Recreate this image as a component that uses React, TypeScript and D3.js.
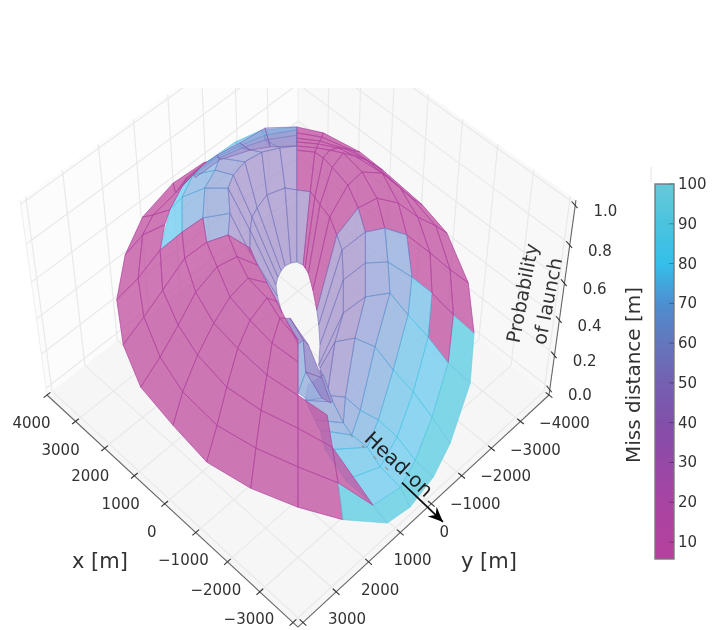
import React from "react";
import * as d3 from "d3";

type V = [number, number, number];

// Surface vertices: [across m, along m, probability]; across/along are metres measured on
// the horizontal diagonals through the centre of the box (x = 925 - across - along, y = -925 - across + along).
const frontSurface: V[][] = [
  [[-1440,-1500,.825],[-1440,-1490,.823],[-1410,-1500,.825]],
  [[-1930,-1270,.775],[-1890,-1170,.751],[-1720,-1330,.787]],
  [[-2400,-910,.694],[-2240,-930,.699],[-1980,-990,.711]],
  [[-2670,-510,.603],[-2400,-720,.651],[-2060,-830,.675]],
  [[-2800,-30,.496],[-2470,-260,.548],[-2130,-560,.615],[-1790,-750,.658],[-1470,-900,.692]],
  [[-2700,450,.389],[-2380,150,.455],[-2090,-130,.52],[-1750,-470,.596],[-1410,-640,.634],[-1080,-720,.651],[-740,-580,.62]],
  [[-2430,900,.288],[-2130,580,.36],[-1850,240,.436],[-1580,-110,.515],[-1250,-380,.575],[-940,-490,.599],[-630,-400,.579]],
  [[-1930,1310,.198],[-1780,950,.277],[-1550,560,.365],[-1300,220,.441],[-1050,-60,.503],[-770,-260,.548],[-480,-210,.537]],
  [[-1410,1700,.11],[-1250,1310,.198],[-1100,900,.288],[-930,490,.381],[-740,190,.448],[-480,-50,.501],[-320,-10,.491]],
  [[-730,1980,.048],[-650,1550,.143],[-570,1150,.234],[-480,770,.317],[-400,430,.393],[-280,170,.453],[-200,170,.453]],
  [[0,2180,.002],[0,1750,.098],[0,1340,.191],[0,990,.269],[0,630,.348],[0,400,.401],[0,400,.401]],
  [[690,2390,0],[620,1920,.06],[530,1540,.145],[450,1200,.222]],
  [[1370,2450,0],[1160,2160,.007],[1160,2160,.007]],
];
const frontMiss: (number | null)[][] = [
  [12,12],
  [12,12],
  [12,12],
  [12,12],
  [12,12,12,12],
  [12,12,12,12,12,12],
  [12,12,12,12,12,12],
  [12,12,12,12,12,12],
  [12,12,12,12,12,12],
  [12,12,12,12,12,12],
  [12,12,12],
  [95,12],
];

const upperSurface: V[][] = [
  [[-1410,-640,.634],[-1410,-640,.634],[-1410,-640,.634],[-1080,-720,.651],[-740,-580,.62],[-250,110,.465]],
  [[-2130,-560,.615],[-1790,-750,.658],[-1470,-900,.692],[-1050,-950,.703],[-740,-530,.608],[-320,-70,.506]],
  [[-1980,-990,.711],[-1790,-1120,.742],[-1440,-1220,.763],[-1080,-1220,.763],[-740,-770,.663],[-340,-190,.532]],
  [[-1720,-1330,.787],[-1620,-1360,.794],[-1280,-1410,.806],[-1000,-1360,.794],[-710,-910,.694],[-310,-270,.551]],
  [[-1410,-1500,.825],[-1250,-1550,.837],[-1210,-1540,.835],[-820,-1500,.825],[-630,-1010,.715],[-260,-340,.565]],
  [[-970,-1710,.873],[-900,-1670,.863],[-870,-1650,.858],[-560,-1600,.849],[-480,-1150,.746],[-200,-390,.577]],
  [[-560,-1840,.901],[-510,-1780,.889],[-510,-1730,.878],[-280,-1650,.858],[-200,-1220,.763],[-110,-420,.584]],
  [[-20,-1870,.909],[-20,-1840,.901],[-20,-1780,.889],[-20,-1670,.863],[-20,-1200,.758],[-20,-430,.587]],
];
const upperMiss: (number | null)[][] = [
  [null,null,55,45,45],
  [75,62,55,45,45],
  [75,62,55,45,45],
  [66,62,52,45,45],
  [68,60,50,45,45],
  [70,58,48,45,45],
  [70,55,48,45,45],
];

const crownSurface: V[][] = [
  [[-1620,-1390,.801],[-1590,-1330,.787]],
  [[-1250,-1570,.842],[-1210,-1520,.83]],
  [[-900,-1700,.87],[-740,-1620,.854]],
  [[-510,-1860,.906],[-430,-1660,.861]],
  [[-20,-1870,.909],[-20,-1670,.863]],
];
const crownMiss: (number | null)[][] = [[30],[30],[30],[30]];

const rightSurface: V[][] = [
  [[-20,-1870,.909],[-20,-1810,.894],[-20,-1750,.882],[-20,-1710,.873],[-20,-1670,.863],[-20,-1620,.854],[-20,-1200,.758],[-20,-430,.587]],
  [[390,-1810,.894],[370,-1760,.885],[340,-1720,.875],[310,-1690,.868],[290,-1650,.858],[260,-1600,.849],[190,-1180,.754],[80,-400,.579]],
  [[960,-1600,.849],[830,-1620,.854],[730,-1640,.856],[620,-1650,.858],[490,-1620,.854],[390,-1540,.835],[260,-1120,.742],[110,-370,.572]],
  [[1310,-1410,.806],[1190,-1460,.818],[1050,-1520,.83],[880,-1560,.839],[700,-1590,.847],[530,-1440,.813],[340,-1040,.723],[160,-310,.56]],
  [[1920,-1040,.723],[1760,-1110,.739],[1580,-1220,.763],[1300,-1380,.799],[990,-1390,.801],[770,-1250,.77],[490,-910,.694],[230,-130,.52]],
  [[2300,-740,.656],[2130,-820,.672],[1850,-910,.694],[1550,-1060,.727],[1220,-1110,.739],[930,-1010,.715],[600,-720,.651],[290,80,.472]],
  [[2630,-210,.537],[2350,-350,.568],[2040,-530,.608],[1680,-720,.651],[1340,-790,.668],[1040,-750,.658],[680,-560,.615],[320,240,.436]],
  [[2720,330,.417],[2400,130,.46],[2070,-100,.513],[1760,-270,.551],[1390,-430,.587],[1040,-420,.584],[700,-240,.544],[340,450,.389]],
  [[2660,860,.298],[2320,640,.346],[2010,370,.408],[1700,130,.46],[1420,-100,.513],[1040,-60,.503],[700,110,.465],[320,670,.341]],
  [[2350,1500,.155],[2070,1220,.217],[1780,950,.277],[1470,720,.329],[1190,470,.384],[880,380,.405],[570,420,.396],[340,700,.334]],
  [[2090,1860,.074],[1810,1680,.114],[1530,1430,.169],[1240,1250,.21],[960,1150,.234],[730,1010,.265],[450,990,.269],[340,720,.329]],
  [[1730,2180,.002],[1580,1970,.05],[1270,1750,.098],[1070,1540,.145],[830,1410,.174],[700,1280,.203],[540,1060,.253],[390,770,.317]],
  [[1370,2450,0],[1160,2160,.007],[730,1890,.067],[420,1570,.138],[340,1360,.186],[260,1250,.21],[110,1040,.257],[150,880,.293]],
];
const rightMiss: (number | null)[][] = [
  [12,12,12,12,12,12,45],
  [12,12,12,12,12,12,12],
  [12,12,12,12,12,12,12],
  [12,12,12,12,12,12,12],
  [12,12,12,12,12,12,12],
  [12,12,12,12,12,45,45],
  [12,12,12,58,54,45,45],
  [95,12,70,58,54,45,45],
  [95,75,72,60,54,45,45],
  [95,75,72,62,56,48,40],
  [95,75,72,64,58,50,45],
  [95,75,74,66,60,55,50],
];

const foldSurface: V[][] = [
  [[-200,170,.453],[-120,170,.453],[-50,240,.436]],
  [[0,450,.389],[80,400,.401],[160,450,.389]],
  [[0,960,.274],[120,740,.324],[370,800,.31]],
  [[160,1040,.257],[370,1020,.262],[510,1070,.25]],
];
const foldMiss: (number | null)[][] = [
  [30,30],
  [58,30],
  [58,30],
];

const xTicks = [4000, 3000, 2000, 1000, 0, -1000, -2000, -3000];
const yTicks = [3000, 2000, 1000, 0, -1000, -2000, -3000, -4000];
const zTicks = [0, 0.2, 0.4, 0.6, 0.8, 1];
const barTicks = [10, 20, 30, 40, 50, 60, 70, 80, 90, 100];
const barStops = [5.7, 10, 20, 30, 40, 50, 60, 70, 80, 90, 100];
const barColors = ["#b5419f","#b3429f","#a844a3","#9648a6","#8250aa","#7460b0","#6476bd","#4d8fd0","#35bfea","#4bc3df","#66c9d9"];
const cellStops = [12, 30, 45, 58, 75, 95];
const cellColors = ["#c258a2","#8f86c8","#a998ce","#96afde","#73cdef","#60cee4"];

const xLim: [number, number] = [5000, -3150];
const yLim: [number, number] = [3150, -5000];
const zLim: [number, number] = [-0.04, 1.02];

const aScale = d3.scaleLinear().domain(xLim).range([-1, 1]);
const bScale = d3.scaleLinear().domain(yLim).range([-1, 1]);
const zScale = d3.scaleLinear().domain(zLim).range([0, 1]);

function project(x: number, y: number, p: number): [number, number] {
  const a = aScale(x), b = bScale(y), z = zScale(p);
  const w = 1 - 0.042 * (a - b) - 0.097 * z;
  return [298 + (125.5 * (a + b)) / w, 395 + (106.3 * (a - b) - 176 * z) / w];
}
const fromVertex = ([u, v, p]: V) => project(925 - u - v, -925 - u + v, p);

const cellColor = d3.scaleLinear<string>().domain(cellStops).range(cellColors).interpolate(d3.interpolateRgb).clamp(true);
const barColor = d3.scaleLinear<string>().domain(barStops).range(barColors).interpolate(d3.interpolateRgb).clamp(true);
const barY = d3.scaleLinear().domain([100, 10]).range([184, 542]);
const labelShiftX = d3.scaleLinear().domain([4000, -3000]).range([2, -3]);
const labelShiftY = d3.scaleLinear().domain([-4000, 3000]).range([2, -3]);

const closed = d3.line<[number, number]>().curve(d3.curveLinearClosed);
const seg = d3.line<[number, number]>();

function Mesh({ mesh, miss, opacity = 0.8 }: { mesh: V[][]; miss: (number | null)[][]; opacity?: number }) {
  const cells: React.ReactNode[] = [];
  miss.forEach((row, i) =>
    row.forEach((val, j) => {
      if (val === null) return;
      const pts = [mesh[i][j], mesh[i][j + 1], mesh[i + 1][j + 1], mesh[i + 1][j]].filter(Boolean).map(fromVertex);
      cells.push(
        <path key={`${i}-${j}`} d={closed(pts) as string} fill={cellColor(val)} fillOpacity={opacity}
          stroke={barColor(val > 20 ? val + 12 : val)} strokeOpacity={val > 20 ? 0.55 : 0.7} strokeWidth={1} strokeLinejoin="round" />
      );
    })
  );
  return <g>{cells}</g>;
}

const sans = "'DejaVu Sans', sans-serif";

export default function App() {
  const [xa, xb] = xLim, [ya, yb] = yLim, [za, zb] = zLim;
  const floor = closed([project(xa, ya, za), project(xb, ya, za), project(xb, yb, za), project(xa, yb, za)]) as string;
  const leftWall = closed([project(xa, ya, za), project(xa, yb, za), project(xa, yb, zb), project(xa, ya, zb)]) as string;
  const rightWall = closed([project(xb, yb, za), project(xa, yb, za), project(xa, yb, zb), project(xb, yb, zb)]) as string;
  const grid = "#e9e9e9";
  const axis = "#666";
  const tail = project(-2600, -610, 0.061);
  const tip = project(-3731, -723, 0);
  const dA = project(-1289, -317, 0.178);
  const dB = project(-2328, -546, 0.086);
  const ang = Math.atan2(tip[1] - tail[1], tip[0] - tail[0]);
  const head: [number, number][] = [
    tip,
    [tip[0] - 15 * Math.cos(ang) + 6.5 * Math.sin(ang), tip[1] - 15 * Math.sin(ang) - 6.5 * Math.cos(ang)],
    [tip[0] - 10 * Math.cos(ang), tip[1] - 10 * Math.sin(ang)],
    [tip[0] - 15 * Math.cos(ang) - 6.5 * Math.sin(ang), tip[1] - 15 * Math.sin(ang) + 6.5 * Math.cos(ang)],
  ];
  const ink = "#333";
  const gradientStops = barStops.map((v, i) => ({ v, c: barColors[i] })).reverse();
  return (
    <svg width={723} height={630} style={{ position: "absolute", left: 0, top: 0, background: "#fff" }} fontFamily={sans}>
      <defs>
        <filter id="soft" x="-5%" y="-5%" width="110%" height="110%">
          <feGaussianBlur stdDeviation="0.7" />
        </filter>
        <clipPath id="crop"><rect x={0} y={88} width={723} height={542} /></clipPath>
        <linearGradient id="barFill" x1="0" y1="0" x2="0" y2="1">
          {gradientStops.map(s => (
            <stop key={s.v} offset={(barY(s.v) - 184) / 375} stopColor={s.c} />
          ))}
        </linearGradient>
      </defs>
      <g filter="url(#soft)">
        <g clipPath="url(#crop)">
          <path d={leftWall} fill="#fcfcfc" />
          <path d={rightWall} fill="#f8f8f9" />
          <path d={floor} fill="#f6f6f6" />
          <g stroke={grid} strokeWidth={1.2} fill="none">
            {xTicks.map(t => <path key={`fx${t}`} d={seg([project(t, ya, za), project(t, yb, za)]) as string} />)}
            {yTicks.map(t => <path key={`fy${t}`} d={seg([project(xa, t, za), project(xb, t, za)]) as string} />)}
            {yTicks.map(t => <path key={`ly${t}`} d={seg([project(xa, t, za), project(xa, t, zb)]) as string} />)}
            {xTicks.map(t => <path key={`rx${t}`} d={seg([project(t, yb, za), project(t, yb, zb)]) as string} />)}
            {zTicks.map(t => <path key={`lz${t}`} d={seg([project(xa, ya, t), project(xa, yb, t)]) as string} />)}
            {zTicks.map(t => <path key={`rz${t}`} d={seg([project(xa, yb, t), project(xb, yb, t)]) as string} />)}
          </g>
          <g stroke="#eeeeee" strokeWidth={1} fill="none">
            <path d={seg([project(xa, ya, za), project(xa, ya, zb)]) as string} />
            <path d={seg([project(xa, yb, za), project(xa, yb, zb)]) as string} />
          </g>
        </g>

        <Mesh mesh={rightSurface} miss={rightMiss} />
        <Mesh mesh={upperSurface} miss={upperMiss} />
        <Mesh mesh={crownSurface} miss={crownMiss} opacity={0.45} />
        <Mesh mesh={foldSurface} miss={foldMiss} />
        <Mesh mesh={frontSurface} miss={frontMiss} />

        <g stroke={axis} strokeWidth={1.1} fill="none">
          <path d={seg([project(xa, ya, za), project(xb, ya, za)]) as string} />
          <path d={seg([project(xb, ya, za), project(xb, yb, za)]) as string} />
          <path d={seg([project(xb, yb, za), project(xb, yb, zb)]) as string} />
          {[5000, ...xTicks].map(t => <path key={`tx${t}`} stroke="#333" d={seg([project(t, ya - 100, za), project(t, ya + 100, za)]) as string} />)}
          {[...yTicks, -5000].map(t => <path key={`ty${t}`} stroke="#333" d={seg([project(xb + 100, t, za), project(xb - 100, t, za)]) as string} />)}
          {zTicks.map(t => <path key={`tz${t}`} stroke="#333" d={seg([project(xb + 100, yb, t), project(xb - 100, yb + 50, t)]) as string} />)}
        </g>

        <g fontSize={15} fill={ink} textAnchor="middle" dominantBaseline="central">
          {xTicks.map(t => {
            const [px, py] = project(t, ya, za);
            return <text key={t} x={px - 44} y={py + labelShiftX(t)}>{d3.format("d")(t).replace("-", "−")}</text>;
          })}
          {yTicks.map(t => {
            const [px, py] = project(xb, t, za);
            return <text key={t} x={px + 44} y={py + labelShiftY(t)}>{d3.format("d")(t).replace("-", "−")}</text>;
          })}
          {zTicks.map(t => {
            const [px, py] = project(xb, yb, t);
            return <text key={t} x={px + 30} y={py + 7}>{t.toFixed(1)}</text>;
          })}
        </g>

        <text x={100} y={561} fontSize={21} fill={ink} textAnchor="middle" dominantBaseline="central">x [m]</text>
        <text x={489} y={561} fontSize={21} fill={ink} textAnchor="middle" dominantBaseline="central">y [m]</text>
        <text transform="translate(522,293) rotate(-79)" fontSize={19} fill={ink} textAnchor="middle" dominantBaseline="central">Probability</text>
        <text transform="translate(547,301) rotate(-79)" fontSize={19} fill={ink} textAnchor="middle" dominantBaseline="central">of launch</text>

        <path d={seg([dA, dB]) as string} stroke="#999" strokeWidth={1.2} strokeDasharray="4 12" fill="none" />
        <text transform="translate(399,464) rotate(43)" fontSize={20} fill="#222" textAnchor="middle" dominantBaseline="central">Head-on</text>
        <path d={seg([tail, tip]) as string} stroke="#111" strokeWidth={1.8} fill="none" />
        <path d={closed(head) as string} fill="#000" />

        <path d="M651,167V182" stroke="#e4e4e4" strokeWidth={1} />
        <rect x={655} y={184} width={19} height={375} fill="url(#barFill)" stroke="#777" strokeWidth={1.4} />
        {barTicks.map(t => (
          <g key={t}>
            <path d={`M669,${barY(t)}H674`} stroke={d3.color(barColor(t))!.darker(1).formatHex()} strokeWidth={1} />
            <text x={678} y={barY(t)} fontSize={15} fill={ink} dominantBaseline="central">{t}</text>
          </g>
        ))}
        <text transform="translate(633,375) rotate(-90)" fontSize={20} fill={ink} textAnchor="middle" dominantBaseline="central">Miss distance [m]</text>
      </g>
    </svg>
  );
}
